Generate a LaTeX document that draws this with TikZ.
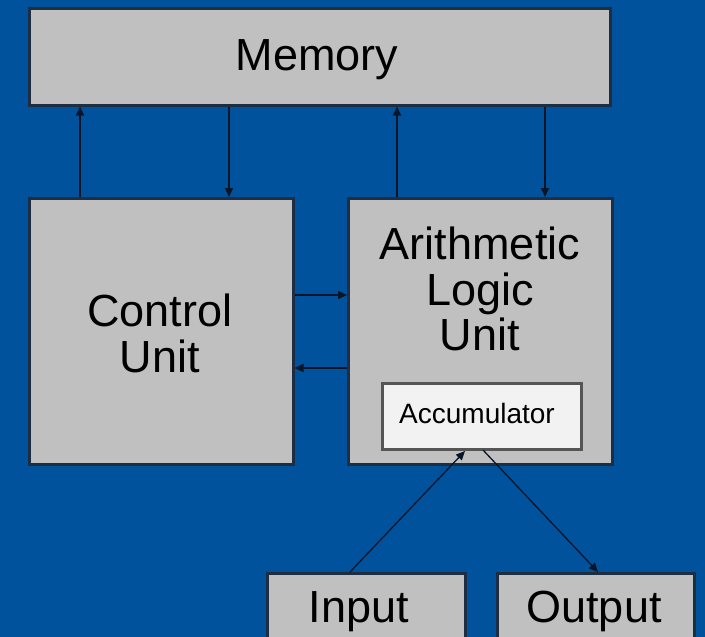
\documentclass[tikz,border=0pt]{standalone}
\usepackage{fontspec}
\setmainfont{Liberation Sans}
\usetikzlibrary{arrows.meta}
\definecolor{bgblue}{HTML}{00529C}
\definecolor{boxfill}{HTML}{C0C0C0}
\definecolor{boxline}{HTML}{1E2E42}
\definecolor{accfill}{HTML}{F2F2F2}
\definecolor{accline}{HTML}{555555}
\definecolor{wire}{HTML}{0A1628}
\tikzset{
  x=1pt, y=-1pt,
  box/.style={draw=boxline, fill=boxfill, line width=2.5pt, inner sep=0pt, anchor=north west},
  accbox/.style={draw=accline, fill=accfill, line width=3pt, inner sep=0pt, anchor=north west},
  big/.style={font=\fontsize{45}{46}\selectfont, anchor=base, inner sep=0pt, text=black},
  small/.style={font=\fontsize{28}{30}\selectfont, anchor=base, inner sep=0pt, text=black},
  bus/.style={draw=wire, line width=2pt, -{Triangle[length=9pt,width=8pt]}},
  thin/.style={draw=wire, line width=1.3pt, -{Triangle[length=9pt,width=8pt]}},
  plainthin/.style={draw=wire, line width=1.3pt},
}
\begin{document}
\begin{tikzpicture}
\fill[bgblue] (0,0) rectangle (705,637);
\useasboundingbox (0,0) rectangle (705,637);

\node[box, minimum width=581pt, minimum height=97pt] (mem) at (28,7) {};
\node[box, minimum width=264pt, minimum height=266pt] (cu) at (28,197) {};
\node[box, minimum width=264pt, minimum height=266pt] (alu) at (347,197) {};
\node[accbox, minimum width=199pt, minimum height=66pt] (acc) at (381,382) {};
\node[box, minimum width=198pt, minimum height=80pt] (inp) at (266,572) {};
\node[box, minimum width=197pt, minimum height=80pt] (out) at (496,572) {};

\node[big] (tmem) at (317,70) {Memory};
\node[big] (tcu1) at (160,326) {Control};
\node[big] (tcu2) at (160,372) {Unit};
\node[big] (talu1) at (480,259) {Arithmetic};
\node[big] (talu2) at (480,305) {Logic};
\node[big] (talu3) at (480,350) {Unit};
\node[small] (tacc) at (477,423) {Accumulator};
\node[big] (tinp) at (359,622) {Input};
\node[big] (tout) at (594,622) {Output};

\coordinate (x1) at (80,0);
\coordinate (x2) at (229,0);
\coordinate (x3) at (397,0);
\coordinate (x4) at (545,0);
\coordinate (y1) at (0,295);
\coordinate (y2) at (0,368);
\coordinate (inpt) at (350,572);
\coordinate (accin) at (465,451);
\coordinate (accout) at (483,450);
\coordinate (outpt) at (598,572);

\draw[bus] (cu.north -| x1) -- (mem.south -| x1);
\draw[bus] (mem.south -| x2) -- (cu.north -| x2);
\draw[bus] (alu.north -| x3) -- (mem.south -| x3);
\draw[bus] (mem.south -| x4) -- (alu.north -| x4);
\draw[bus] (cu.east |- y1) -- (alu.west |- y1);
\draw[bus] (alu.west |- y2) -- (cu.east |- y2);
\draw[thin] (inpt) -- (accin);
\draw[thin] (accout) -- (outpt);
\end{tikzpicture}
\end{document}
